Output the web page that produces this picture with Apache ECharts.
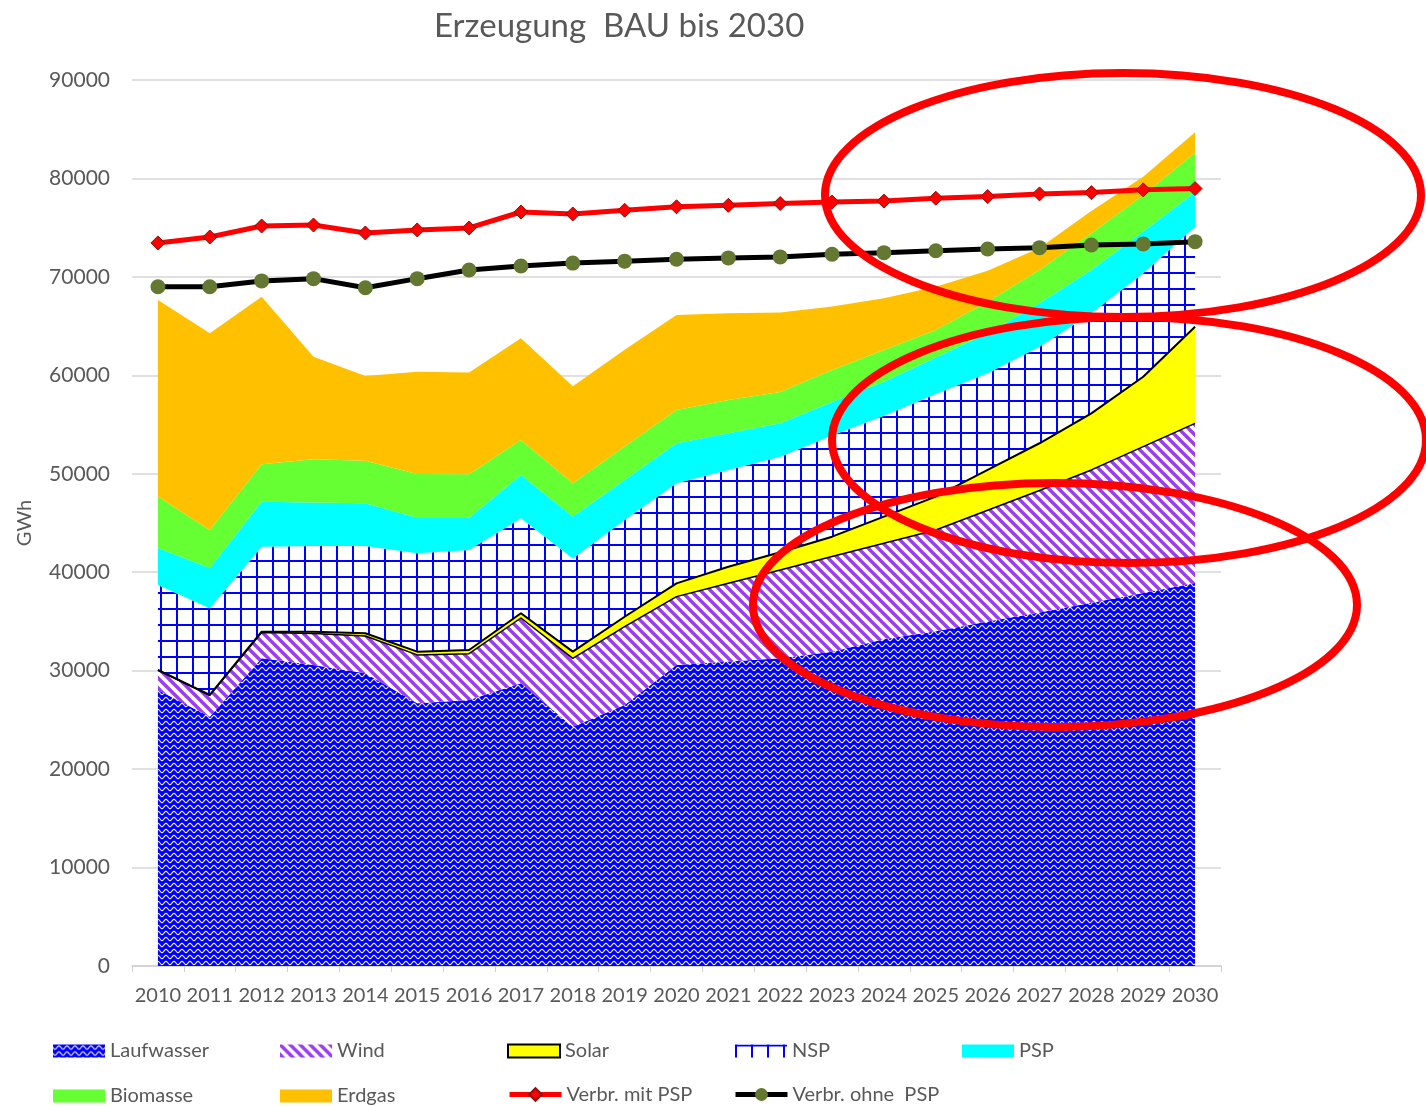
<!DOCTYPE html>
<html>
<head>
<meta charset="utf-8">
<script src="https://cdn.jsdelivr.net/npm/echarts/dist/echarts.min.js"></script>
<style>
html,body{margin:0;padding:0;background:#ffffff;}
#chart{width:1426px;height:1107px;}
</style>
</head>
<body>
<div id="chart"></div>
<script>
// ---------- data ----------
const years = ['2010','2011','2012','2013','2014','2015','2016','2017','2018','2019','2020','2021','2022','2023','2024','2025','2026','2027','2028','2029','2030'];
const laufwasser = [28040, 25330, 31260, 30580, 29730, 26690, 27020, 28720, 24310, 26500, 30580, 30920, 31260, 31930, 33200, 34000, 35000, 35900, 36900, 37900, 38900];
const wind       = [2010, 2170, 2620, 3200, 3790, 4910, 4700, 6630, 6940, 7970, 6940, 7950, 8970, 9660, 9740, 10290, 11300, 12400, 13490, 14860, 16220];
const solar      = [20, 30, 80, 180, 280, 330, 380, 480, 680, 1010, 1350, 1690, 1800, 2020, 2710, 3390, 4100, 4800, 5740, 7100, 9820];
const nsp        = [8630, 8800, 8630, 8710, 8870, 9990, 10160, 9650, 9470, 9830, 10160, 9830, 9710, 10290, 10250, 10420, 9800, 9810, 10170, 10500, 10160];
const psp        = [3760, 4100, 4580, 4400, 4330, 3620, 3280, 4400, 4250, 4060, 4070, 3720, 3380, 3400, 3450, 3700, 4070, 4410, 4400, 4240, 3500];
const biomasse   = [5220, 3860, 3790, 4400, 4330, 4440, 4410, 3550, 3380, 3390, 3380, 3390, 3180, 3250, 3230, 2800, 3210, 3380, 3730, 3700, 4000];
const erdgas     = [19970, 19980, 17030, 10430, 8600, 10390, 10350, 10330, 9870, 9840, 9650, 8800, 8070, 6450, 5240, 4400, 3140, 2240, 2270, 1880, 2100];
const verbrMitPSP  = [73450, 74050, 75170, 75270, 74460, 74770, 74970, 76590, 76390, 76770, 77120, 77270, 77450, 77600, 77700, 77990, 78160, 78430, 78560, 78840, 78970];
const verbrOhnePSP = [69000, 69000, 69590, 69820, 68900, 69820, 70700, 71100, 71400, 71600, 71790, 71930, 72030, 72300, 72460, 72660, 72840, 72970, 73240, 73350, 73580];
const yTicks = {min: 0, max: 90000, interval: 10000};

// ---------- patterns ----------
function makeCanvas(w, h) { const c = document.createElement('canvas'); c.width = w; c.height = h; return c; }
function wavePattern() {
  const w = 8, h = 6, c = makeCanvas(w, h), g = c.getContext('2d');
  g.fillStyle = '#0000FF'; g.fillRect(0, 0, w, h);
  g.strokeStyle = '#FFFFFF'; g.lineWidth = 1.1;
  g.beginPath();
  for (let x = -1; x <= w + 1; x += 0.5) {
    const y = 3 + 1.6 * Math.sin(2 * Math.PI * x / w);
    if (x === -1) g.moveTo(x, y); else g.lineTo(x, y);
  }
  g.stroke();
  return {image: c, repeat: 'repeat'};
}
function stripePattern() {
  const s = 10, c = makeCanvas(s, s), g = c.getContext('2d');
  g.fillStyle = '#FFFFFF'; g.fillRect(0, 0, s, s);
  g.strokeStyle = '#9A3CF0'; g.lineWidth = 3.4;
  g.beginPath();
  [-s, 0, s].forEach(o => { g.moveTo(o - 1, -1); g.lineTo(o + s + 1, s + 1); });
  g.stroke();
  return {image: c, repeat: 'repeat'};
}
function gridPattern() {
  const s = 16, c = makeCanvas(s, s), g = c.getContext('2d');
  g.fillStyle = '#FFFFFF'; g.fillRect(0, 0, s, s);
  g.fillStyle = '#0000FF';
  g.fillRect(0, 0, s, 2); g.fillRect(0, 0, 2, s);
  return {image: c, repeat: 'repeat'};
}
const WAVE = wavePattern(), STRIPE = stripePattern(), GRID = gridPattern();
const FONT = 'Lato, "Open Sans", sans-serif';
const TXT = '#595959';

function areaSeries(name, data, fill, line) {
  return {
    name, type: 'line', stack: 'total', data,
    symbol: 'none', showSymbol: false, smooth: false,
    lineStyle: line || {width: 0, opacity: 0},
    areaStyle: {color: fill, opacity: 1},
    itemStyle: {color: fill},
    emphasis: {disabled: true},
    z: 2
  };
}

function legendItem(name, left, top, icon, itemStyle, lineStyle, h) {
  const d = {name};
  if (icon) d.icon = icon;
  if (itemStyle) d.itemStyle = itemStyle;
  if (lineStyle) d.lineStyle = lineStyle;
  return {
    data: [d], left, top, orient: 'horizontal', padding: 0,
    itemWidth: 52, itemHeight: h || 13, itemGap: 0, selectedMode: false,
    textStyle: {fontSize: 20, color: TXT, fontFamily: FONT, padding: [0, 0, 0, 0]}
  };
}

const row1 = 1041, row2 = 1086;
const option = {
  backgroundColor: '#FFFFFF',
  animation: false,
  title: {
    text: 'Erzeugung  BAU bis 2030', left: 429, top: 5,
    textStyle: {fontSize: 33, fontWeight: 'normal', color: TXT, fontFamily: FONT}
  },
  grid: {left: 132, right: 205, top: 80, bottom: 141, containLabel: false, outerBoundsMode: 'none'},
  xAxis: {
    type: 'category', data: years, boundaryGap: true,
    axisLine: {show: true, lineStyle: {color: '#D0D0D0', width: 1.5}},
    axisTick: {show: true, length: 6, lineStyle: {color: '#D0D0D0'}},
    axisLabel: {interval: 0, fontSize: 20, color: TXT, fontFamily: FONT, margin: 20},
    splitLine: {show: false}
  },
  yAxis: {
    type: 'value', min: yTicks.min, max: yTicks.max, interval: yTicks.interval,
    name: 'GWh', nameLocation: 'middle', nameGap: 97, nameRotate: 90,
    nameTextStyle: {fontSize: 20, color: TXT, fontFamily: FONT},
    axisLine: {show: false}, axisTick: {show: false},
    axisLabel: {fontSize: 21, color: TXT, fontFamily: FONT, margin: 22, formatter: v => String(v)},
    splitLine: {show: true, lineStyle: {color: '#D6D6D6', width: 1.5}}
  },
  legend: [
    legendItem('Laufwasser', 53, row1, 'rect', {color: WAVE, borderWidth: 0}),
    legendItem('Wind', 280, row1, 'rect', {color: STRIPE, borderWidth: 0}),
    legendItem('Solar', 507, row1, 'rect', {color: '#FFFF00', borderColor: '#000000', borderWidth: 2}),
    legendItem('NSP', 735, row1, 'rect', {color: GRID, borderWidth: 0}),
    legendItem('PSP', 962, row1, 'rect', {color: '#00FFFF', borderWidth: 0}),
    legendItem('Biomasse', 53, row2, 'rect', {color: '#66FF33', borderWidth: 0}),
    legendItem('Erdgas', 280, row2, 'rect', {color: '#FFC000', borderWidth: 0}),
    legendItem('Verbr. mit PSP', 507, row2 - 1.5, null, null, {width: 5}, 16),
    legendItem('Verbr. ohne  PSP', 733, row2 - 1.5, null, null, {width: 5}, 16)
  ],
  series: [
    areaSeries('Laufwasser', laufwasser, WAVE),
    areaSeries('Wind', wind, STRIPE, {width: 1.5, color: '#000000'}),
    areaSeries('Solar', solar, '#FFFF00', {width: 2, color: '#000000'}),
    areaSeries('NSP', nsp, GRID),
    areaSeries('PSP', psp, '#00FFFF'),
    areaSeries('Biomasse', biomasse, '#66FF33'),
    areaSeries('Erdgas', erdgas, '#FFC000'),
    {
      name: 'Verbr. mit PSP', type: 'line', data: verbrMitPSP,
      symbol: 'diamond', symbolSize: 14, showSymbol: true,
      lineStyle: {color: '#FF0000', width: 5},
      itemStyle: {color: '#FF0000', borderColor: '#8B1010', borderWidth: 1},
      emphasis: {disabled: true}, z: 5
    },
    {
      name: 'Verbr. ohne  PSP', type: 'line', data: verbrOhnePSP,
      symbol: 'circle', symbolSize: 15, showSymbol: true,
      lineStyle: {color: '#000000', width: 5},
      itemStyle: {color: '#657832', borderWidth: 0},
      emphasis: {disabled: true}, z: 5
    }
  ],
  graphic: [
    {type: 'ellipse', z: 100, shape: {cx: 1123, cy: 195, rx: 298, ry: 122}, style: {fill: 'none', stroke: '#FF0000', lineWidth: 8}},
    {type: 'ellipse', z: 100, shape: {cx: 1129, cy: 440, rx: 297, ry: 123}, style: {fill: 'none', stroke: '#FF0000', lineWidth: 8}},
    {type: 'ellipse', z: 100, shape: {cx: 1055, cy: 605, rx: 302, ry: 122}, style: {fill: 'none', stroke: '#FF0000', lineWidth: 8}}
  ]
};
const chart = echarts.init(document.getElementById('chart'), null, {renderer: 'canvas'});
chart.setOption(option);
</script>
</body>
</html>
